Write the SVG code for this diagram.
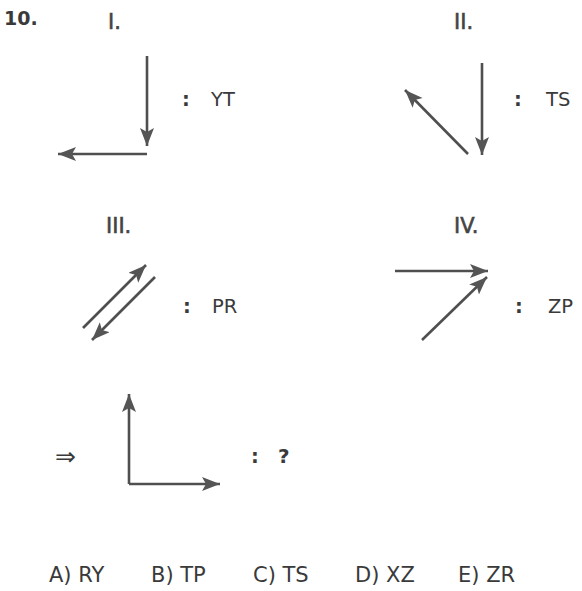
<svg xmlns="http://www.w3.org/2000/svg" width="582" height="591" viewBox="0 0 582 591">
<style>
.t{font-family:"DejaVu Sans","Liberation Sans",sans-serif;fill:#3a3a3a;font-size:19.5px}
.b{font-weight:bold}
.n{font-size:21px;fill:#444;stroke:#444;stroke-width:0.6}
.a{stroke:#4f4f4f;stroke-width:2.6;fill:none;marker-end:url(#ah)}
</style>
<defs>
<marker id="ah" markerUnits="userSpaceOnUse" markerWidth="20" markerHeight="16" refX="18" refY="7" orient="auto">
<path d="M0,0 L18,7 L0,14 L4,7 Z" fill="#555"/>
</marker>
</defs>
<rect width="582" height="591" fill="#fff"/>
<text class="t b" x="4" y="25" style="font-size:19px">10.</text>
<g id="panel1">
<text class="t n" x="108" y="29">I.</text>
<text class="t b" x="182" y="106">:</text>
<text class="t" x="211" y="106">YT</text>
</g>
<g id="panel2">
<text class="t n" x="454" y="29">II.</text>
<text class="t b" x="514" y="106">:</text>
<text class="t" x="546" y="106">TS</text>
</g>
<g id="panel3">
<text class="t n" x="106" y="233">III.</text>
<text class="t b" x="183" y="313">:</text>
<text class="t" x="212" y="313">PR</text>
</g>
<g id="panel4">
<text class="t n" x="454" y="233">IV.</text>
<text class="t b" x="515" y="313">:</text>
<text class="t" x="548" y="313">ZP</text>
</g>
<g id="question">
<text class="t" x="55" y="465" style="font-size:25px">⇒</text>
<text class="t b" x="251" y="463">:</text>
<text class="t b" x="278" y="463" style="font-size:20px">?</text>
</g>
<g id="answers">
<text class="t" x="49" y="582" style="font-size:21px">A) RY</text>
<text class="t" x="151" y="582" style="font-size:21px">B) TP</text>
<text class="t" x="253" y="582" style="font-size:21px">C) TS</text>
<text class="t" x="355" y="582" style="font-size:21px">D) XZ</text>
<text class="t" x="458" y="582" style="font-size:21px">E) ZR</text>
</g>
<g id="connectors">
<line class="a" x1="147" y1="56" x2="147" y2="146"/>
<line class="a" x1="147" y1="154" x2="58" y2="154"/>
<line class="a" x1="482" y1="63" x2="482" y2="155"/>
<line class="a" x1="468" y1="154" x2="405" y2="90"/>
<line class="a" x1="83" y1="328" x2="146" y2="265"/>
<line class="a" x1="155" y1="277" x2="92" y2="340"/>
<line class="a" x1="395" y1="271" x2="488" y2="271"/>
<line class="a" x1="422" y1="340" x2="487" y2="277"/>
<line class="a" x1="129" y1="484" x2="129" y2="394"/>
<line class="a" x1="129" y1="484" x2="220" y2="484"/>
</g>
</svg>
